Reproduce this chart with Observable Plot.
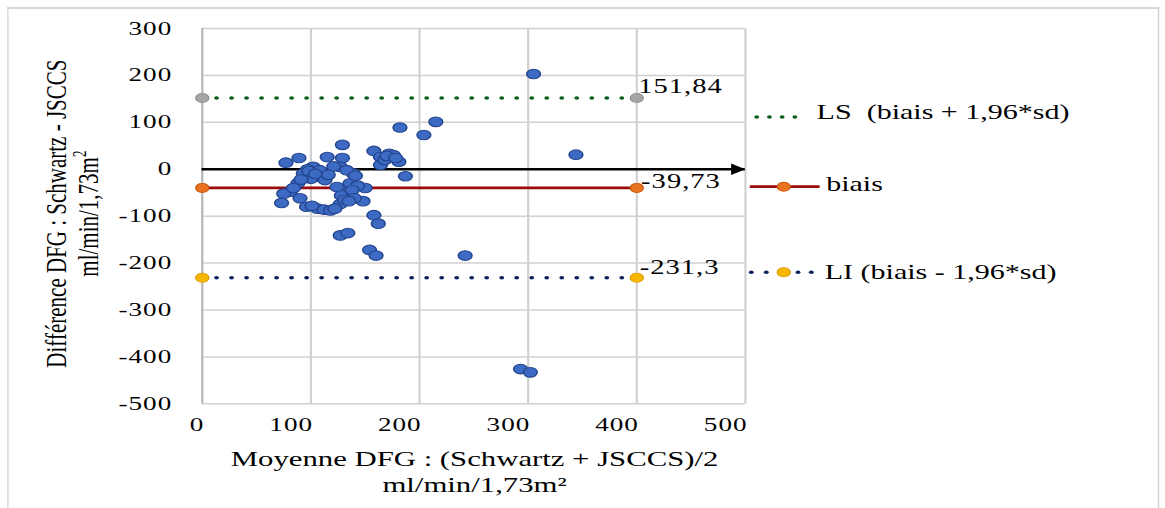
<!DOCTYPE html>
<html>
<head>
<meta charset="utf-8">
<script src="https://cdn.jsdelivr.net/npm/d3@7"></script>
<script src="https://cdn.jsdelivr.net/npm/@observablehq/plot@0.6"></script>
<style>
  html, body { margin: 0; padding: 0; background: #fff; overflow: hidden; }
  #page { position: relative; width: 1165px; height: 508px; overflow: hidden; }
  #stage { position: absolute; left: 0; top: 0; width: 815px; height: 508px;
           transform: scaleX(1.4294); transform-origin: 0 0;
           font-family: "Liberation Serif", "Times New Roman", serif; color: #000; }
  #frame { position: absolute; left: 4.5px; top: 7px; width: 804px; height: 600px;
           border-top: 2px solid #d6d6d6; border-left: 1.6px solid #d6d6d6; border-right: 1.8px solid #d0d0d0; }
  #chart { position: absolute; left: 0; top: 0; }
  #ytitle { position: absolute; left: -149.3px; top: 192.4px; width: 400px; height: 43.2px;
            line-height: 21.6px; font-size: 21px; text-align: center; white-space: nowrap;
            transform: rotate(-90deg); transform-origin: 50% 50%; }
  #ytitle sup { font-size: 13px; vertical-align: 0; position: relative; top: -8px; }
  #xtitle { position: absolute; left: 132px; top: 446px; width: 400px; line-height: 26px;
            font-size: 21.5px; text-align: center; white-space: nowrap; }
  .leg { position: absolute; font-size: 21px; line-height: 21px; white-space: pre; }
  #legsw { position: absolute; left: 0; top: 0; overflow: visible; }
</style>
</head>
<body>
<div id="page">
  <div id="stage">
    <div id="frame"></div>
    <div id="chart"></div>
    <div id="ytitle">Différence DFG : Schwartz - JSCCS<br>ml/min/1,73m<sup>2</sup></div>
    <div id="xtitle">Moyenne DFG : (Schwartz + JSCCS)/2<br>ml/min/1,73m²</div>
    <svg id="legsw" width="815" height="508"></svg>
  </div>
</div>
<script>
// ---- Data ----
const meanValues = [305, 182, 204, 215, 344, 187, 129, 77, 89, 115, 129, 158, 164, 172, 176, 181, 164, 168,
                    242, 293, 302, 127, 134, 154, 160, 158, 162, 148, 150, 102, 97, 93, 88, 81, 75, 73,
                    90, 96, 106, 112, 118, 127, 130, 133, 124, 136, 139, 127, 121, 133, 109, 113, 100, 128,
                    131, 84, 108, 98, 104, 116, 141, 143, 138, 140, 122, 101, 135, 91, 170, 178];
const diffValues = [203, 89, 73, 101, 31, -15, 52, 14, 24, 26, 24, 39, 26, 33, 30, 16, 9, 20,
                    -184, -426, -433, -141, -136, -172, -184, -98, -116, -68, -40, 5, 0, -9, -30, -48, -52, -72,
                    -62, -80, -84, -86, -88, -74, -48, -59, -38, -30, -9, 5, 6, -2, -16, -23, -20, -56,
                    -65, -40, -2, -4, -10, -12, -14, -35, -45, -62, -84, -78, -68, -22, 28, 24];
const limitNames = ["LS", "biais", "LI"];
const limitValues = [151.84, -39.73, -231.3];
const limitFrom = [0, 0, 0];
const limitTo = [400, 400, 400];
const zeroAxis = [{from: 0, to: 500, y: 0}];
const xTicks = [0, 100, 200, 300, 400, 500];
const yTicks = [-500, -400, -300, -200, -100, 0, 100, 200, 300];
const legendLabels = ["LS  (biais + 1,96*sd)", "biais", "LI (biais - 1,96*sd)"];

// ---- Tables built from the arrays ----
const points = meanValues.map((x, i) => ({x, y: diffValues[i]}));
const limits = limitNames.map((name, i) => ({name, value: limitValues[i], from: limitFrom[i], to: limitTo[i],
                                             label: String(limitValues[i]).replace(".", ",")}));
const ends = limits.flatMap(d => [{name: d.name, x: d.from, y: d.value}, {name: d.name, x: d.to, y: d.value}]);
const byName = n => limits.filter(d => d.name === n);
const endsOf = n => ends.filter(d => d.name === n);

const colors = {LS: "#0b5d1a", biais: "#9c0a0a", LI: "#0c1f5e"};
const markerFill = {LS: "#a6a6a6", biais: "#e8721f", LI: "#f7b700"};
const markerStroke = {LS: "#8c8c8c", biais: "#c65a10", LI: "#d99a00"};

const arrowR = 4.3;
const tipOffset = 2 * Math.sqrt(Math.PI * arrowR * arrowR / (Math.sqrt(3) * 3));

const chart = Plot.plot({
  width: 815,
  height: 508,
  marginLeft: 141,
  marginRight: 294,
  marginTop: 28,
  marginBottom: 104.7,
  style: {fontFamily: "Liberation Serif, Times New Roman, serif", fontSize: "19px", background: "transparent", color: "#000", letterSpacing: "0.7px"},
  x: {domain: [0, 500]},
  y: {domain: [-500, 300]},
  marks: [
    Plot.gridY(yTicks, {stroke: "#d0d0d0", strokeOpacity: 1, strokeWidth: 1.5}),
    Plot.gridX(xTicks.filter(d => d !== 0), {stroke: "#d0d0d0", strokeOpacity: 1, strokeWidth: 1.5}),
    Plot.ruleX([0], {stroke: "#b8b8b8", strokeWidth: 1.6}),
    Plot.axisY(yTicks, {tickSize: 0, tickPadding: 21, tickFormat: d => String(d), fontSize: 19}),
    Plot.axisX(xTicks, {tickSize: 0, tickPadding: 14, textAnchor: "end", dx: 1.5, tickFormat: d => String(d), fontSize: 19}),
    // zero axis with arrow
    Plot.ruleY(zeroAxis, {y: "y", x1: "from", x2: "to", stroke: "#000", strokeWidth: 2.6}),
    Plot.dot(zeroAxis, {x: "to", y: "y", symbol: "triangle", r: arrowR, rotate: 90, fill: "#000", stroke: "none", dx: -tipOffset}),
    // bias and limits
    Plot.ruleY(byName("biais"), {y: "value", x1: "from", x2: "to", stroke: colors.biais, strokeWidth: 2.8}),
    Plot.ruleY(byName("LS"), {y: "value", x1: "from", x2: "to", stroke: colors.LS, strokeWidth: 3.4, strokeDasharray: "0 10.5", strokeLinecap: "round"}),
    Plot.ruleY(byName("LI"), {y: "value", x1: "from", x2: "to", stroke: colors.LI, strokeWidth: 3.4, strokeDasharray: "0 10.5", strokeLinecap: "round"}),
    // data points
    Plot.dot(points, {x: "x", y: "y", r: 4.8, fill: "#3d6bc4", stroke: "#24468f", strokeWidth: 1.1}),
    // end markers
    ...limitNames.map(n => Plot.dot(endsOf(n), {x: "x", y: "y", r: 4.6, fill: markerFill[n], stroke: markerStroke[n], strokeWidth: 0.8})),
    // value labels
    Plot.text(byName("LS"), {x: "to", y: "value", text: "label", textAnchor: "start", dx: 1, dy: -11, fontSize: 20}),
    Plot.text(byName("biais"), {x: "to", y: "value", text: "label", textAnchor: "start", dx: 3, dy: -6, fontSize: 20}),
    Plot.text(byName("LI"), {x: "to", y: "value", text: "label", textAnchor: "start", dx: 2, dy: -10, fontSize: 20})
  ]
});
document.getElementById("chart").appendChild(chart);

// ---- Legend (HTML text + small swatches) ----
const stage = document.getElementById("stage");
const legendTops = [102.4, 174, 262];
const legendLefts = [571.3, 578, 577];
legendLabels.forEach((t, i) => {
  const d = document.createElement("div");
  d.className = "leg";
  d.style.left = legendLefts[i] + "px";
  d.style.top = legendTops[i] + "px";
  d.textContent = t;
  stage.appendChild(d);
});
const sw = d3.select("#legsw");
// LS swatch: dotted green
sw.append("line").attr("x1", 529.4).attr("x2", 565).attr("y1", 117).attr("y2", 117)
  .attr("stroke", colors.LS).attr("stroke-width", 3.4).attr("stroke-linecap", "round").attr("stroke-dasharray", "0 8.9");
// biais swatch: solid red with orange dot
sw.append("line").attr("x1", 524.5).attr("x2", 573.4).attr("y1", 186.7).attr("y2", 186.7)
  .attr("stroke", colors.biais).attr("stroke-width", 2.8);
sw.append("circle").attr("cx", 548.3).attr("cy", 186.7).attr("r", 4.6).attr("fill", markerFill.biais).attr("stroke", markerStroke.biais).attr("stroke-width", 0.8);
// LI swatch: dotted navy with yellow dot
[525.6, 536.1, 558.3, 567.6].forEach(cx => sw.append("circle").attr("cx", cx).attr("cy", 272.3).attr("r", 1.7).attr("fill", colors.LI));
sw.append("circle").attr("cx", 548.3).attr("cy", 272.3).attr("r", 4.6).attr("fill", markerFill.LI).attr("stroke", markerStroke.LI).attr("stroke-width", 0.8);
</script>
</body>
</html>
